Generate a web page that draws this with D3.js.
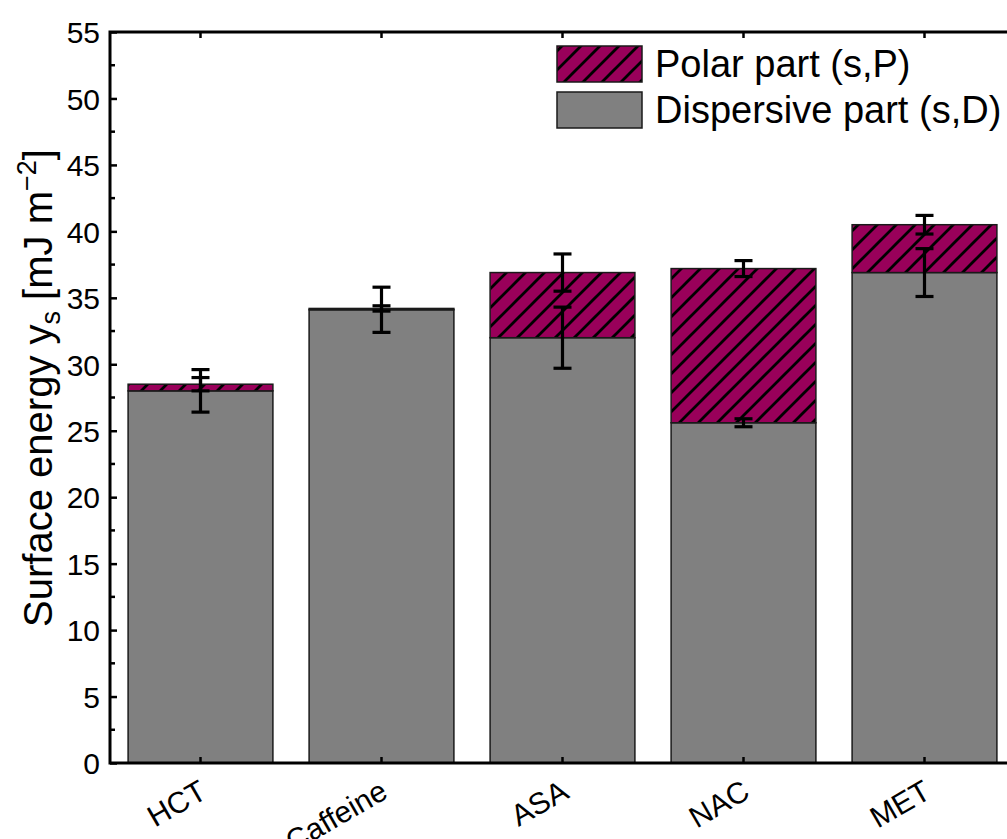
<!DOCTYPE html>
<html>
<head>
<meta charset="utf-8">
<script src="https://cdn.jsdelivr.net/npm/d3@7"></script>
<style>
  body { margin: 0; background: #fff; }
  text { font-family: "Liberation Sans", Arial, sans-serif; fill: #000; }
</style>
</head>
<body>
<svg id="chart" width="1007" height="839"></svg>
<script>
// data
var categories = ["HCT", "Caffeine", "ASA", "NAC", "MET"];
var dispersive = [28.0, 34.1, 32.0, 25.6, 36.9];
var polar = [0.5, 0.1, 4.9, 11.6, 3.6];
var dispersiveErr = [1.6, 1.7, 2.3, 0.3, 1.8];
var polarErr = [0.5, 0.2, 1.4, 0.6, 0.7];
var yTicks = [0, 5, 10, 15, 20, 25, 30, 35, 40, 45, 50, 55];
var legendLabels = ["Polar part (s,P)", "Dispersive part (s,D)"];

var svg = d3.select("#chart");
var plotLeft = 110, plotRight = 1015, plotTop = 32, plotBottom = 763;

var x = d3.scaleBand()
    .domain(categories)
    .range([plotLeft, plotRight])
    .paddingInner(0.2)
    .paddingOuter(0.1);

var y = d3.scaleLinear()
    .domain([0, 55])
    .range([plotBottom, plotTop]);

// hatch pattern for the polar part
var defs = svg.append("defs");
var pat = defs.append("pattern")
    .attr("id", "hatch")
    .attr("patternUnits", "userSpaceOnUse")
    .attr("width", 19)
    .attr("height", 19);
pat.append("rect").attr("width", 19).attr("height", 19).attr("fill", "#99005a");
pat.append("path")
    .attr("d", "M-2,2 l4,-4 M0,19 l19,-19 M17,21 l4,-4")
    .attr("stroke", "#000")
    .attr("stroke-width", 2.8);

var data = categories.map(function(c, i) {
  return { name: c, d: dispersive[i], p: polar[i], de: dispersiveErr[i], pe: polarErr[i] };
});

// dispersive bars
svg.selectAll("rect.disp")
    .data(data)
    .enter()
  .append("rect")
    .attr("class", "disp")
    .attr("x", function(d) { return x(d.name); })
    .attr("width", x.bandwidth())
    .attr("y", function(d) { return y(d.d); })
    .attr("height", function(d) { return y(0) - y(d.d); })
    .attr("fill", "#808080")
    .attr("stroke", "#1a1a1a")
    .attr("stroke-width", 1.5);

// polar bars stacked on top
svg.selectAll("rect.pol")
    .data(data)
    .enter()
  .append("rect")
    .attr("class", "pol")
    .attr("x", function(d) { return x(d.name); })
    .attr("width", x.bandwidth())
    .attr("y", function(d) { return y(d.d + d.p); })
    .attr("height", function(d) { return y(d.d) - y(d.d + d.p); })
    .attr("fill", "url(#hatch)")
    .attr("stroke", "#1a1a1a")
    .attr("stroke-width", 1.5);

// error bars
function errorBar(cx, val, err) {
  var g = svg.append("g").attr("stroke", "#000").attr("stroke-width", 3.2);
  g.append("line").attr("x1", cx).attr("x2", cx).attr("y1", y(val - err)).attr("y2", y(val + err));
  g.append("line").attr("x1", cx - 9).attr("x2", cx + 9).attr("y1", y(val - err)).attr("y2", y(val - err));
  g.append("line").attr("x1", cx - 9).attr("x2", cx + 9).attr("y1", y(val + err)).attr("y2", y(val + err));
}
data.forEach(function(d) {
  var cx = x(d.name) + x.bandwidth() / 2;
  errorBar(cx, d.d, d.de);
  errorBar(cx, d.d + d.p, d.pe);
});

// axes frame
var yAxis = d3.axisLeft(y).tickValues(yTicks).tickSizeInner(-7).tickSizeOuter(0).tickPadding(10);
var gy = svg.append("g").attr("transform", "translate(" + plotLeft + ",0)").call(yAxis);
gy.selectAll("text").style("font-size", "30px").attr("dy", "0.36em");
gy.select(".domain").remove();
gy.selectAll(".tick line").attr("stroke-width", 2.5);

var minor = d3.range(2.5, 55, 5);
svg.append("g").selectAll("line")
    .data(minor)
    .enter()
  .append("line")
    .attr("x1", plotLeft).attr("x2", plotLeft + 5)
    .attr("y1", function(d) { return y(d); }).attr("y2", function(d) { return y(d); })
    .attr("stroke", "#000").attr("stroke-width", 2.5);
svg.append("g").selectAll("line")
    .data(yTicks.concat(minor))
    .enter()
  .append("line")
    .attr("x1", plotRight).attr("x2", plotRight - 7)
    .attr("y1", function(d) { return y(d); }).attr("y2", function(d) { return y(d); })
    .attr("stroke", "#000").attr("stroke-width", 2.5);

// category ticks bottom and top
svg.append("g").selectAll("line")
    .data(categories)
    .enter()
  .append("line")
    .attr("x1", function(d) { return x(d) + x.bandwidth() / 2; })
    .attr("x2", function(d) { return x(d) + x.bandwidth() / 2; })
    .attr("y1", plotBottom).attr("y2", plotBottom - 6)
    .attr("stroke", "#000").attr("stroke-width", 2.5);
svg.append("g").selectAll("line")
    .data(categories)
    .enter()
  .append("line")
    .attr("x1", function(d) { return x(d) + x.bandwidth() / 2; })
    .attr("x2", function(d) { return x(d) + x.bandwidth() / 2; })
    .attr("y1", plotTop).attr("y2", plotTop + 6)
    .attr("stroke", "#000").attr("stroke-width", 2.5);

svg.append("rect")
    .attr("x", plotLeft).attr("y", plotTop)
    .attr("width", plotRight - plotLeft).attr("height", plotBottom - plotTop)
    .attr("fill", "none").attr("stroke", "#000").attr("stroke-width", 3);

// rotated category labels
svg.append("g").selectAll("text")
    .data(categories)
    .enter()
  .append("text")
    .attr("text-anchor", "end")
    .style("font-size", "30px")
    .attr("transform", function(d) {
      return "translate(" + (x(d) + x.bandwidth() / 2 + 8) + ",797) rotate(-30)";
    })
    .text(function(d) { return d; });

// y title
var title = svg.append("text")
    .attr("text-anchor", "middle")
    .style("font-size", "40px")
    .attr("transform", "translate(52,388) rotate(-90)");
title.append("tspan").text("Surface energy y");
title.append("tspan").attr("dy", 8).style("font-size", "27px").text("s");
title.append("tspan").attr("dy", -8).text(" [mJ m");
title.append("tspan").attr("dy", -16).style("font-size", "27px").text("\u22122");
title.append("tspan").attr("dy", 16).text("]");

// legend
var legend = svg.append("g");
var fills = ["url(#hatch)", "#808080"];
legendLabels.forEach(function(lab, i) {
  var yy = 46 + i * 46;
  legend.append("rect")
      .attr("x", 557).attr("y", yy)
      .attr("width", 85).attr("height", 36)
      .attr("fill", fills[i])
      .attr("stroke", "#1a1a1a").attr("stroke-width", 1.5);
  legend.append("text")
      .attr("x", 655).attr("y", yy + 31)
      .style("font-size", "38px")
      .text(lab);
});
</script>
</body>
</html>
